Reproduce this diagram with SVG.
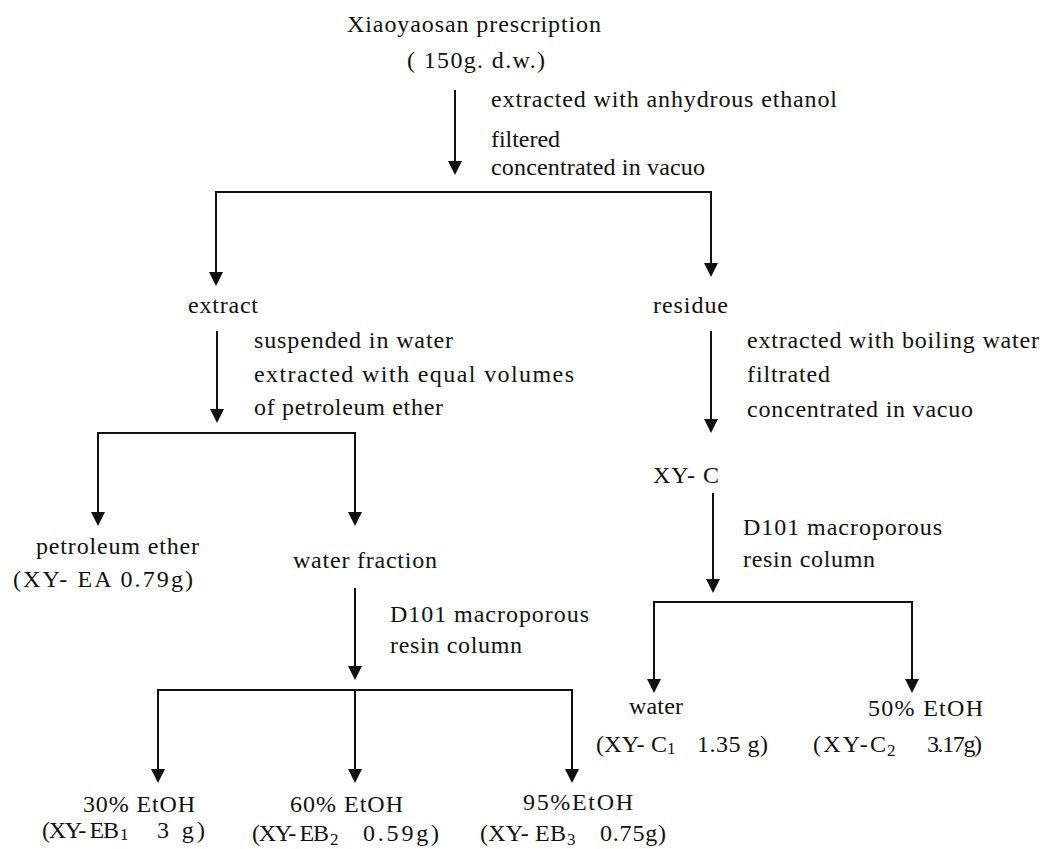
<svg xmlns="http://www.w3.org/2000/svg" width="1040" height="849" viewBox="0 0 1040 849">
<style>
.t{fill:#111;}
.sub{font-size:17px;}
.ln{stroke:#111;stroke-width:2;fill:none;}
.ar{stroke:#111;stroke-width:2;fill:none;marker-end:url(#ah);}
</style>
<defs>
<marker id="ah" markerUnits="userSpaceOnUse" markerWidth="14" markerHeight="14" refX="10" refY="7" orient="auto">
<path d="M0,0 L14,7 L0,14 z" fill="#111"/>
</marker>
</defs>
<rect width="1040" height="849" fill="#fff"/>
<g id="connectors">
<line class="ar" x1="455" y1="90" x2="455" y2="171"/>
<path class="ln" d="M216,192 H711"/>
<line class="ar" x1="216" y1="191" x2="216" y2="282"/>
<line class="ar" x1="711" y1="191" x2="711" y2="273"/>
<line class="ar" x1="217" y1="331" x2="217" y2="419"/>
<path class="ln" d="M98,433 H355"/>
<line class="ar" x1="98" y1="432" x2="98" y2="522"/>
<line class="ar" x1="355" y1="432" x2="355" y2="522"/>
<line class="ar" x1="355" y1="588" x2="355" y2="676"/>
<path class="ln" d="M158,690 H572"/>
<line class="ar" x1="158" y1="689" x2="158" y2="779"/>
<line class="ar" x1="355" y1="689" x2="355" y2="779"/>
<line class="ar" x1="572" y1="689" x2="572" y2="779"/>
<line class="ar" x1="711" y1="331" x2="711" y2="429"/>
<line class="ar" x1="713" y1="493" x2="713" y2="589"/>
<path class="ln" d="M654,602 H912"/>
<line class="ar" x1="654" y1="601" x2="654" y2="689"/>
<line class="ar" x1="912" y1="601" x2="912" y2="689"/>
</g>
<g class="t" font-family="Liberation Serif, DejaVu Serif, serif" font-size="24">
<g id="node-start">
<text x="347" y="32" textLength="254" lengthAdjust="spacing">Xiaoyaosan prescription</text>
<text x="407" y="68" textLength="138" lengthAdjust="spacing">( 150g. d.w.)</text>
</g>
<g id="label-step1">
<text x="491" y="107" textLength="346" lengthAdjust="spacing">extracted with anhydrous ethanol</text>
<text x="491" y="147" textLength="69" lengthAdjust="spacing">filtered</text>
<text x="491" y="175" textLength="214" lengthAdjust="spacing">concentrated in vacuo</text>
</g>
<g id="node-extract">
<text x="188" y="313" textLength="70" lengthAdjust="spacing">extract</text>
</g>
<g id="node-residue">
<text x="653" y="313" textLength="75" lengthAdjust="spacing">residue</text>
</g>
<g id="label-extract">
<text x="254" y="348" textLength="199" lengthAdjust="spacing">suspended in water</text>
<text x="254" y="382" textLength="320" lengthAdjust="spacing">extracted with equal volumes</text>
<text x="254" y="415" textLength="189" lengthAdjust="spacing">of petroleum ether</text>
</g>
<g id="label-residue">
<text x="747" y="348" textLength="292" lengthAdjust="spacing">extracted with boiling water</text>
<text x="747" y="382" textLength="83" lengthAdjust="spacing">filtrated</text>
<text x="747" y="417" textLength="226" lengthAdjust="spacing">concentrated in vacuo</text>
</g>
<g id="node-xyc">
<text x="653" y="483" textLength="66" lengthAdjust="spacing">XY- C</text>
</g>
<g id="label-xyc">
<text x="743" y="535" textLength="199" lengthAdjust="spacing">D101 macroporous</text>
<text x="743" y="567" textLength="132" lengthAdjust="spacing">resin column</text>
</g>
<g id="node-ea">
<text x="36" y="554" textLength="163" lengthAdjust="spacing">petroleum ether</text>
<text x="13" y="587" textLength="180" lengthAdjust="spacing">(XY- EA  0.79g)</text>
</g>
<g id="node-water-fraction">
<text x="293" y="568" textLength="144" lengthAdjust="spacing">water fraction</text>
</g>
<g id="label-water-fraction">
<text x="390" y="622" textLength="199" lengthAdjust="spacing">D101 macroporous</text>
<text x="390" y="653" textLength="132" lengthAdjust="spacing">resin column</text>
</g>
<g id="node-eb1">
<text x="83" y="812" textLength="112" lengthAdjust="spacing">30% EtOH</text>
<text x="42" y="838" textLength="77" lengthAdjust="spacing">(XY- EB</text>
<text class="sub" x="120" y="840">1</text>
<text x="157" y="838" textLength="48" lengthAdjust="spacing">3 g)</text>
</g>
<g id="node-eb2">
<text x="290" y="812" textLength="113" lengthAdjust="spacing">60% EtOH</text>
<text x="252" y="841" textLength="77" lengthAdjust="spacing">(XY- EB</text>
<text class="sub" x="330" y="845">2</text>
<text x="363" y="841" textLength="76" lengthAdjust="spacing">0.59g)</text>
</g>
<g id="node-eb3">
<text x="523" y="810" textLength="110" lengthAdjust="spacing">95%EtOH</text>
<text x="480" y="841" textLength="86" lengthAdjust="spacing">(XY- EB</text>
<text class="sub" x="567" y="845">3</text>
<text x="600" y="841" textLength="66" lengthAdjust="spacing">0.75g)</text>
</g>
<g id="node-c1">
<text x="629" y="714" textLength="54" lengthAdjust="spacing">water</text>
<text x="596" y="752" textLength="71" lengthAdjust="spacing">(XY- C</text>
<text class="sub" x="667" y="754">1</text>
<text x="697" y="752" textLength="71" lengthAdjust="spacing">1.35 g)</text>
</g>
<g id="node-c2">
<text x="868" y="716" textLength="115" lengthAdjust="spacing">50% EtOH</text>
<text x="813" y="752" textLength="73" lengthAdjust="spacing">(XY-C</text>
<text class="sub" x="887" y="756">2</text>
<text x="927" y="752" textLength="55" lengthAdjust="spacing">3.17g)</text>
</g>
</g>
</svg>
